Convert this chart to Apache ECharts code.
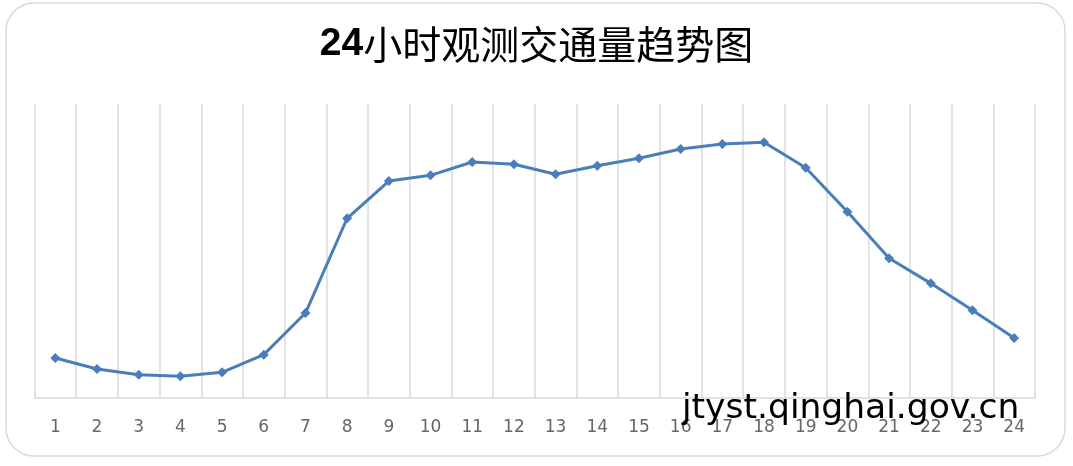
<!DOCTYPE html>
<html>
<head>
<meta charset="utf-8">
<script src="https://cdn.jsdelivr.net/npm/echarts@6/dist/echarts.min.js"></script>
<style>html,body{margin:0;padding:0;background:#fff;}#c{width:1073px;height:466px;}</style>
</head>
<body>
<div id="c"></div>
<script>
const titleText = '24小时观测交通量趋势图';
const hours = ['1','2','3','4','5','6','7','8','9','10','11','12','13','14','15','16','17','18','19','20','21','22','23','24'];
const volume = [408, 296, 238, 221, 262, 442, 867, 1834, 2214, 2272, 2408, 2385, 2283, 2370, 2446, 2541, 2592, 2609, 2350, 1901, 1426, 1170, 895, 612];
const watermark = 'jtyst.qinghai.gov.cn';

const chart = echarts.init(document.getElementById('c'), null, {renderer: 'canvas'});
chart.setOption({
  backgroundColor: '#fff',
  animation: false,
  title: {
    text: '{n|24}小时观测交通量趋势图',
    left: 'center',
    top: 20,
    textStyle: {
      fontFamily: '"Noto Sans CJK SC", sans-serif',
      fontSize: 39,
      fontWeight: 'normal',
      color: '#000',
      rich: {
        n: {fontFamily: '"Liberation Sans", Arial, sans-serif', fontSize: 39, fontWeight: 'bold', color: '#000'}
      }
    }
  },
  grid: {left: 34.5, right: 38, top: 104, bottom: 68},
  xAxis: {
    type: 'category',
    data: hours,
    boundaryGap: true,
    axisLine: {lineStyle: {color: '#d9d9d9', width: 1.5}},
    axisTick: {show: false},
    axisLabel: {color: '#666666', fontSize: 17, margin: 21, fontFamily: '"DejaVu Sans", sans-serif'},
    splitLine: {show: true, lineStyle: {color: '#d9d9d9', width: 1.5}}
  },
  yAxis: {
    type: 'value',
    min: 0,
    max: 3000,
    show: false,
    splitLine: {show: false}
  },
  series: [{
    type: 'line',
    data: volume,
    symbol: 'diamond',
    symbolSize: 10,
    itemStyle: {color: '#4a7ebb'},
    lineStyle: {color: '#4a7ebb', width: 3}
  }],
  graphic: [
    {
      type: 'rect',
      shape: {x: 6, y: 3, width: 1059, height: 453, r: 28},
      style: {fill: 'none', stroke: '#d9d9d9', lineWidth: 1.5},
      z: -1
    },
    {
      type: 'text',
      left: 682,
      top: 392,
      z: 100,
      style: {text: watermark, fontSize: 34.5, fontFamily: '"DejaVu Sans", sans-serif', fill: '#000'}
    }
  ]
});
</script>
</body>
</html>
